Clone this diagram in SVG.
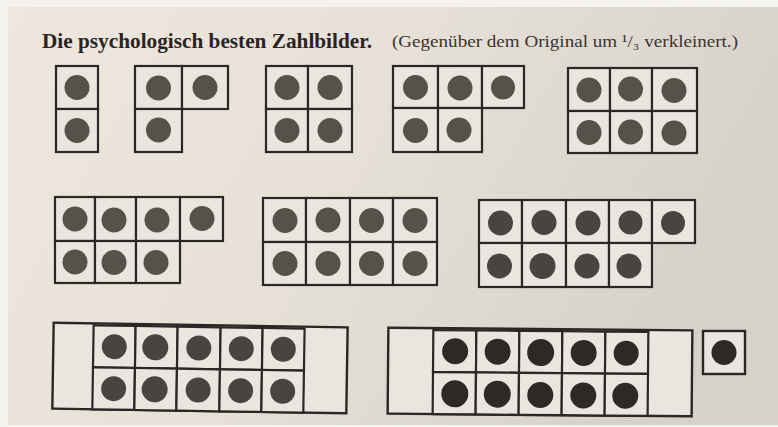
<svg xmlns="http://www.w3.org/2000/svg" width="778" height="427" viewBox="0 0 778 427">
  <defs>
    <linearGradient id="paper" x1="0" y1="0" x2="1" y2="0.3">
      <stop offset="0" stop-color="#ede7de"/>
      <stop offset="0.5" stop-color="#e6e0d7"/>
      <stop offset="1" stop-color="#d7d2c9"/>
    </linearGradient>
    <style>
      .cell { fill: #e9e5df; stroke: #2b2724; stroke-width: 2.2; }
      .frame { fill: #e9e5df; stroke: #2b2724; stroke-width: 2.4; }
      .dot { fill: #57514c; }
      .dot-dark { fill: #2e2926; }
      .dot-mid { fill: #4a4440; }
      .title { font-family: "Liberation Serif", "DejaVu Serif", serif; font-weight: bold; font-size: 22px; fill: #2a2522; }
      .sub { font-family: "Liberation Serif", "DejaVu Serif", serif; font-size: 17px; fill: #3a3430; }
    </style>
  </defs>

  <rect x="0" y="0" width="778" height="427" fill="#f5f3ef"/>
  <rect x="8" y="7" width="770" height="418" fill="url(#paper)"/>

  <text class="title" x="42" y="48" textLength="330" lengthAdjust="spacingAndGlyphs">Die psychologisch besten Zahlbilder.</text>
  <text class="sub" x="392" y="47" textLength="346" lengthAdjust="spacingAndGlyphs">(Gegenüber dem Original um ¹/₃ verkleinert.)</text>

  <g id="zahlbild-2">
    <rect class="cell" x="56" y="66" width="42" height="43"/>
    <rect class="cell" x="56" y="109" width="42" height="43"/>
    <circle class="dot" cx="77" cy="87.5" r="12.5"/>
    <circle class="dot" cx="77" cy="130.5" r="12.5"/>
  </g>

  <g id="zahlbild-3">
    <rect class="cell" x="135" y="66" width="47" height="43"/>
    <rect class="cell" x="182" y="66" width="46" height="43"/>
    <rect class="cell" x="135" y="109" width="47" height="43"/>
    <circle class="dot" cx="158.5" cy="88" r="12.5"/>
    <circle class="dot" cx="205" cy="87.5" r="12.5"/>
    <circle class="dot" cx="158.5" cy="130" r="12.5"/>
  </g>

  <g id="zahlbild-4">
    <rect class="cell" x="266" y="66" width="42" height="43"/>
    <rect class="cell" x="308" y="66" width="44" height="43"/>
    <rect class="cell" x="266" y="109" width="42" height="43"/>
    <rect class="cell" x="308" y="109" width="44" height="43"/>
    <circle class="dot" cx="287" cy="87.5" r="12.5"/>
    <circle class="dot" cx="330" cy="87.5" r="12.5"/>
    <circle class="dot" cx="287" cy="130.5" r="12.5"/>
    <circle class="dot" cx="330" cy="130.5" r="12.5"/>
  </g>

  <g id="zahlbild-5">
    <rect class="cell" x="393" y="66" width="45" height="42"/>
    <rect class="cell" x="438" y="66" width="44" height="42"/>
    <rect class="cell" x="482" y="66" width="42" height="42"/>
    <rect class="cell" x="393" y="108" width="45" height="44"/>
    <rect class="cell" x="438" y="108" width="44" height="44"/>
    <circle class="dot" cx="415.5" cy="87.5" r="12.5"/>
    <circle class="dot" cx="460" cy="88" r="12.5"/>
    <circle class="dot" cx="503" cy="87.5" r="12"/>
    <circle class="dot" cx="415.5" cy="130.5" r="12.5"/>
    <circle class="dot" cx="459" cy="130" r="12.5"/>
  </g>

  <g id="zahlbild-6">
    <rect class="cell" x="568" y="68" width="42" height="43"/>
    <rect class="cell" x="610" y="68" width="42" height="43"/>
    <rect class="cell" x="652" y="68" width="45" height="43"/>
    <rect class="cell" x="568" y="111" width="42" height="42"/>
    <rect class="cell" x="610" y="111" width="42" height="42"/>
    <rect class="cell" x="652" y="111" width="45" height="42"/>
    <circle class="dot" cx="589" cy="90" r="12.5"/>
    <circle class="dot" cx="630.5" cy="89" r="12.5"/>
    <circle class="dot" cx="674" cy="90.5" r="12.5"/>
    <circle class="dot" cx="589" cy="132.5" r="12.5"/>
    <circle class="dot" cx="630.5" cy="132" r="12.5"/>
    <circle class="dot" cx="674" cy="133" r="12.5"/>
  </g>

  <g id="zahlbild-7">
    <rect class="cell" x="55" y="197" width="40" height="44"/>
    <rect class="cell" x="95" y="197" width="41" height="44"/>
    <rect class="cell" x="136" y="197" width="44" height="44"/>
    <rect class="cell" x="180" y="197" width="43" height="44"/>
    <rect class="cell" x="55" y="241" width="40" height="42"/>
    <rect class="cell" x="95" y="241" width="41" height="42"/>
    <rect class="cell" x="136" y="241" width="44" height="42"/>
    <circle class="dot" cx="75" cy="219" r="12.5"/>
    <circle class="dot" cx="114" cy="220" r="12.5"/>
    <circle class="dot" cx="157" cy="220" r="12.5"/>
    <circle class="dot" cx="202" cy="218.5" r="12.5"/>
    <circle class="dot" cx="75" cy="262" r="12.5"/>
    <circle class="dot" cx="114" cy="262.5" r="12.5"/>
    <circle class="dot" cx="156" cy="262.5" r="12.5"/>
  </g>

  <g id="zahlbild-8">
    <rect class="cell" x="263" y="198" width="43" height="44"/>
    <rect class="cell" x="306" y="198" width="44" height="44"/>
    <rect class="cell" x="350" y="198" width="43" height="44"/>
    <rect class="cell" x="393" y="198" width="44" height="44"/>
    <rect class="cell" x="263" y="242" width="43" height="43"/>
    <rect class="cell" x="306" y="242" width="44" height="43"/>
    <rect class="cell" x="350" y="242" width="43" height="43"/>
    <rect class="cell" x="393" y="242" width="44" height="43"/>
    <circle class="dot" cx="285" cy="220.5" r="12.5"/>
    <circle class="dot" cx="328" cy="220" r="12.5"/>
    <circle class="dot" cx="371.5" cy="220.5" r="12.5"/>
    <circle class="dot" cx="415" cy="220.5" r="12.5"/>
    <circle class="dot" cx="285" cy="263.5" r="12.5"/>
    <circle class="dot" cx="328" cy="263.5" r="12.5"/>
    <circle class="dot" cx="371.5" cy="263.5" r="12.5"/>
    <circle class="dot" cx="415" cy="263.5" r="12.5"/>
  </g>

  <g id="zahlbild-9">
    <rect class="cell" x="479" y="200" width="43" height="43"/>
    <rect class="cell" x="522" y="200" width="44" height="43"/>
    <rect class="cell" x="566" y="200" width="43" height="43"/>
    <rect class="cell" x="609" y="200" width="43" height="43"/>
    <rect class="cell" x="652" y="200" width="43" height="43"/>
    <rect class="cell" x="479" y="243" width="43" height="44"/>
    <rect class="cell" x="522" y="243" width="44" height="44"/>
    <rect class="cell" x="566" y="243" width="43" height="44"/>
    <rect class="cell" x="609" y="243" width="43" height="44"/>
    <circle class="dot-mid" cx="500.5" cy="223" r="12.5"/>
    <circle class="dot-mid" cx="544" cy="222.5" r="12.5"/>
    <circle class="dot-mid" cx="588" cy="223" r="12.5"/>
    <circle class="dot-mid" cx="630.5" cy="222.5" r="12"/>
    <circle class="dot-mid" cx="673" cy="223" r="12"/>
    <circle class="dot-mid" cx="499.5" cy="266" r="12.5"/>
    <circle class="dot-mid" cx="542.5" cy="266" r="13"/>
    <circle class="dot-mid" cx="587" cy="266" r="12.5"/>
    <circle class="dot-mid" cx="629" cy="266" r="12.5"/>
  </g>

  <g id="zahlbild-10a" transform="rotate(0.9 200 367)">
    <rect class="frame" x="53" y="325" width="294" height="86"/>
    <rect class="cell" x="93" y="327" width="42" height="42"/>
    <rect class="cell" x="135" y="327" width="42" height="42"/>
    <rect class="cell" x="177" y="327" width="43" height="42"/>
    <rect class="cell" x="220" y="327" width="42" height="42"/>
    <rect class="cell" x="262" y="327" width="42" height="42"/>
    <rect class="cell" x="93" y="369" width="42" height="42"/>
    <rect class="cell" x="135" y="369" width="42" height="42"/>
    <rect class="cell" x="177" y="369" width="43" height="42"/>
    <rect class="cell" x="220" y="369" width="42" height="42"/>
    <rect class="cell" x="262" y="369" width="42" height="42"/>
    <circle class="dot-mid" cx="114" cy="348" r="12.5"/>
    <circle class="dot-mid" cx="155" cy="348" r="13"/>
    <circle class="dot-mid" cx="198.5" cy="348" r="12.5"/>
    <circle class="dot-mid" cx="241" cy="348" r="12.5"/>
    <circle class="dot-mid" cx="283" cy="348" r="12.5"/>
    <circle class="dot-mid" cx="114" cy="390" r="12.5"/>
    <circle class="dot-mid" cx="155" cy="390" r="13"/>
    <circle class="dot-mid" cx="198.5" cy="390" r="12.5"/>
    <circle class="dot-mid" cx="241" cy="390" r="12.5"/>
    <circle class="dot-mid" cx="283" cy="390" r="12.5"/>
  </g>

  <g id="zahlbild-10b" transform="rotate(0.5 540 372)">
    <rect class="frame" x="388" y="329" width="304" height="86"/>
    <rect class="cell" x="433" y="331" width="43" height="42"/>
    <rect class="cell" x="476" y="331" width="43" height="42"/>
    <rect class="cell" x="519" y="331" width="43" height="42"/>
    <rect class="cell" x="562" y="331" width="43" height="42"/>
    <rect class="cell" x="605" y="331" width="43" height="42"/>
    <rect class="cell" x="433" y="373" width="43" height="42"/>
    <rect class="cell" x="476" y="373" width="43" height="42"/>
    <rect class="cell" x="519" y="373" width="43" height="42"/>
    <rect class="cell" x="562" y="373" width="43" height="42"/>
    <rect class="cell" x="605" y="373" width="43" height="42"/>
    <circle class="dot-dark" cx="455" cy="352" r="13"/>
    <circle class="dot-dark" cx="497.5" cy="352" r="13"/>
    <circle class="dot-dark" cx="540.5" cy="352.5" r="13.5"/>
    <circle class="dot-dark" cx="583.5" cy="352.5" r="13"/>
    <circle class="dot-dark" cx="626" cy="352.5" r="12.5"/>
    <circle class="dot-dark" cx="455" cy="394.5" r="13.5"/>
    <circle class="dot-dark" cx="497.5" cy="394.5" r="13.5"/>
    <circle class="dot-dark" cx="540.5" cy="395" r="13"/>
    <circle class="dot-dark" cx="583.5" cy="395" r="13"/>
    <circle class="dot-dark" cx="625.5" cy="395" r="13"/>
  </g>

  <g id="zahlbild-1">
    <rect class="frame" x="703" y="331" width="42" height="43"/>
    <circle class="dot-dark" cx="724" cy="352.5" r="12.5"/>
  </g>
</svg>
